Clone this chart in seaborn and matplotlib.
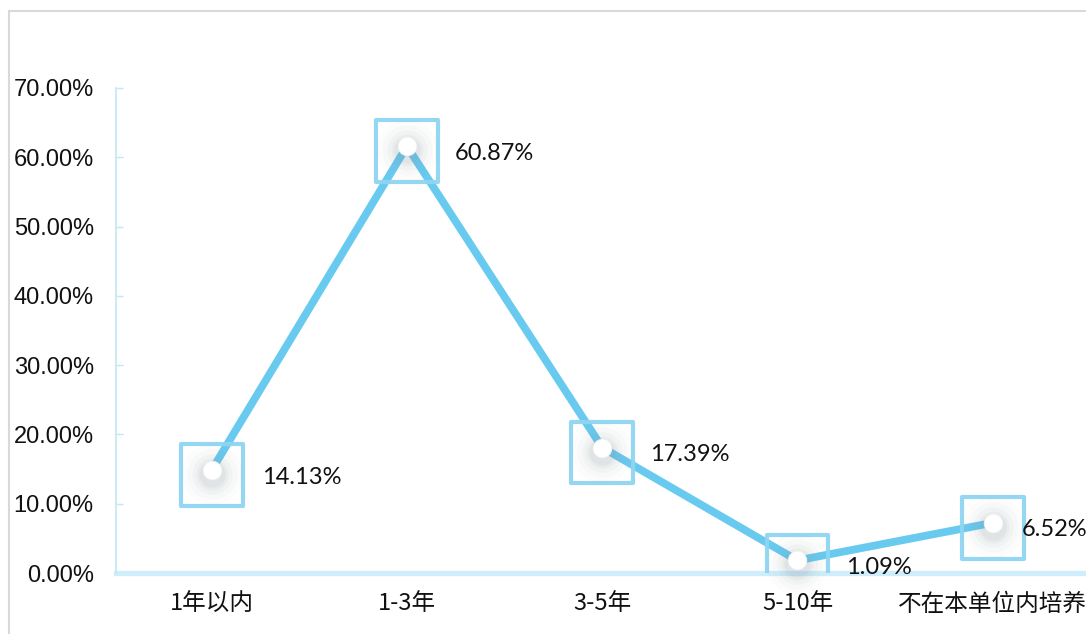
import matplotlib
matplotlib.use("Agg")
import matplotlib.pyplot as plt
import matplotlib.transforms as mtransforms
import seaborn as sns
import pandas as pd
from matplotlib.patches import Rectangle
from matplotlib.ticker import FuncFormatter, MultipleLocator

categories = ["1年以内", "1-3年", "3-5年", "5-10年", "不在本单位内培养"]
values = [14.13, 60.87, 17.39, 1.09, 6.52]
value_labels = ["14.13%", "60.87%", "17.39%", "1.09%", "6.52%"]

df = pd.DataFrame({"cat": categories, "val": values})

sns.set_theme(style="white")
plt.rcParams["font.family"] = ["Liberation Sans", "DejaVu Sans"]

W, H = 1086, 634
fig = plt.figure(figsize=(W / 100, H / 100), dpi=100)
ax = fig.add_axes([116 / W, (H - 573) / H, 4.99 * 195.25 / W, 485 / H])

line_c = "#68caef"
sq_c = "#8fd5f3"

# shifted transform: line and point sit a few pixels above the square frames
up = mtransforms.offset_copy(ax.transData, fig=fig, x=0, y=5, units="dots")
up2 = mtransforms.offset_copy(ax.transData, fig=fig, x=0, y=1, units="dots")

n0 = len(ax.lines)
sns.lineplot(data=df, x="cat", y="val", ax=ax, color=line_c, linewidth=5.6,
             sort=False, zorder=3, solid_capstyle="round")
for ln in ax.lines[n0:]:
    ln.set_transform(up)
    ln.set_clip_on(False)

# square hollow markers
sns.scatterplot(data=df, x="cat", y="val", ax=ax, marker="s", s=44.5 ** 2,
                facecolor="none", edgecolor=sq_c, linewidth=3.0, alpha=0.95,
                zorder=4, legend=False)
for c in ax.collections:
    c.set_joinstyle("round")
# glow / shadow around point
for size, a in [(44, 0.025), (36, 0.035), (29, 0.05), (23, 0.07), (19, 0.09)]:
    c0 = len(ax.collections)
    sns.scatterplot(data=df, x="cat", y="val", ax=ax, s=size ** 2,
                    color="#8a9aa3", alpha=a, linewidth=0, zorder=5, legend=False)
    for c in ax.collections[c0:]:
        c.set_offset_transform(up2)
        c.set_clip_on(False)
c0 = len(ax.collections)
sns.scatterplot(data=df, x="cat", y="val", ax=ax, marker="o", s=13.5 ** 2,
                color="white", edgecolor="#f0f0f0", linewidth=0.5,
                zorder=6, legend=False)
for c in ax.collections[c0:]:
    c.set_offset_transform(up)
    c.set_clip_on(False)

offsets = [50, 48, 48, 49, 29]
for i, (v, lab) in enumerate(zip(values, value_labels)):
    ax.annotate(lab, (i, v), xytext=(offsets[i] * 0.72, -2 * 0.72),
                textcoords="offset points", ha="left", va="center",
                fontsize=17, family=["Lato", "DejaVu Sans"], color="#111111",
                zorder=7, annotation_clip=False)

ax.set_xlim(-0.49, 4.5)
ax.set_ylim(0, 70)
ax.yaxis.set_major_locator(MultipleLocator(10))
ax.yaxis.set_major_formatter(FuncFormatter(lambda y, p: f"{y:.2f}%"))
ax.set_xlabel("")
ax.set_ylabel("")

for s in ["top", "right"]:
    ax.spines[s].set_visible(False)
ax.spines["left"].set_color("#bfe7f7")
ax.spines["left"].set_linewidth(1.2)
ax.spines["bottom"].set_color("#cfeefb")
ax.spines["bottom"].set_linewidth(3.8)
ax.spines["bottom"].set_zorder(1)

ax.tick_params(axis="y", direction="in", length=5, width=1, color="#bfe7f7",
               pad=16, labelsize=17, labelcolor="#111111", left=True)
ax.tick_params(axis="x", length=0, pad=14, labelcolor="#111111")
for t in ax.get_xticklabels():
    t.set_fontfamily(["Noto Sans CJK SC", "DejaVu Sans"])
    t.set_fontsize(17)
ax.grid(False)

fig.patches.append(Rectangle((9 / W, -0.1), 1.2, 1 - 11 / H + 0.1,
                             transform=fig.transFigure, fill=False,
                             edgecolor="#d9d9d9", linewidth=1.5, zorder=0))

fig.savefig("out.png", dpi=100)
